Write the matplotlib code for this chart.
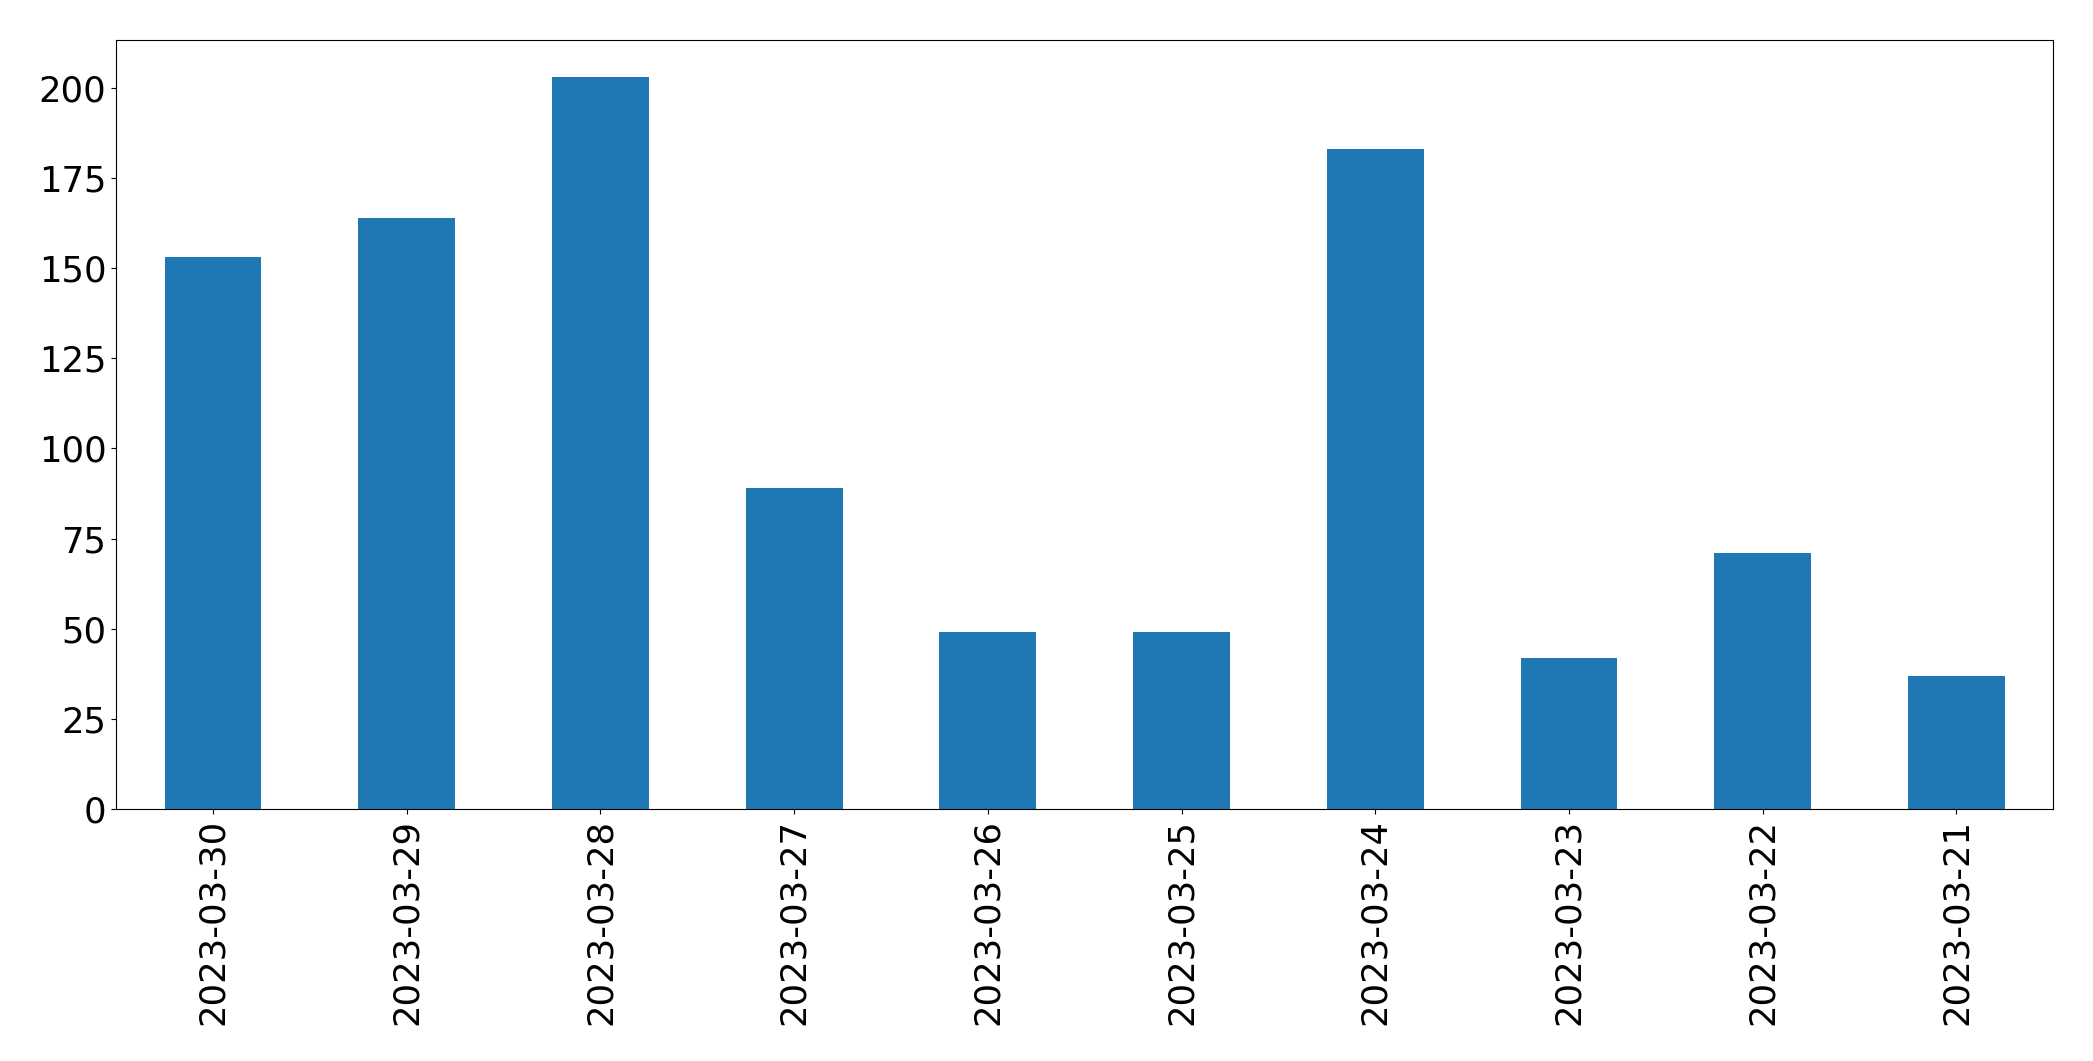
import matplotlib
matplotlib.use("Agg")
import matplotlib.pyplot as plt
import numpy as np

dates = ["2023-03-30", "2023-03-29", "2023-03-28", "2023-03-27", "2023-03-26",
         "2023-03-25", "2023-03-24", "2023-03-23", "2023-03-22", "2023-03-21"]
counts = [153, 164, 203, 89, 49, 49, 183, 42, 71, 37]

fig, ax = plt.subplots(figsize=(20.93, 10.61), dpi=100)
fig.subplots_adjust(left=0.0555, right=0.981, top=0.962, bottom=0.2375)
x = np.arange(len(dates))
ax.bar(x, counts, width=0.5, color="#1f77b4")
ax.set_xlim(-0.5, len(dates) - 0.5)
ax.set_xticks(x)
ax.set_xticklabels(dates, rotation=90, fontsize=25.5)
ax.tick_params(axis="y", labelsize=25.5)
fig.savefig("out.png", dpi=100)
